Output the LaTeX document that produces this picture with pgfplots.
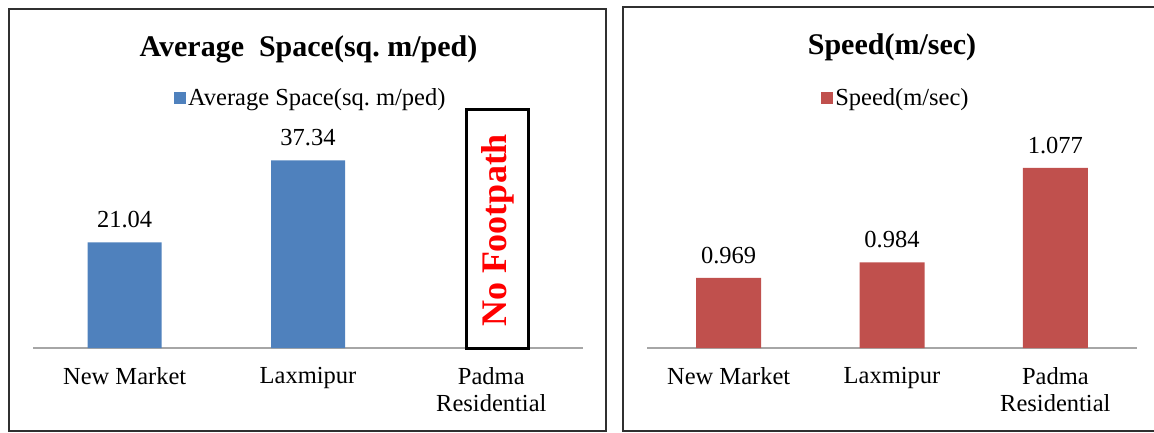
\documentclass[border=0pt]{standalone}
\usepackage{fontspec}
\setmainfont{Liberation Serif}
\usepackage{pgfplots}
\pgfplotsset{compat=1.18}
\frenchspacing
\definecolor{barblue}{HTML}{4F81BD}
\definecolor{barred}{HTML}{C0504D}
\definecolor{axgray}{HTML}{A6A6A6}
\definecolor{frame}{HTML}{303030}
\newcommand{\txt}{\fontsize{24.5}{27}\selectfont}
\newcommand{\ttl}{\fontsize{30}{33}\selectfont\bfseries}
\pgfplotsset{
  panel/.style={
    scale only axis,
    /pgf/number format/assume math mode=true,
    xmin=-0.5, xmax=2.5,
    xtick={0,1,2},
    xticklabels={New Market,Laxmipur,Padma\\Residential},
    axis x line*=bottom,
    axis y line=none,
    x axis line style={draw=axgray, line width=1.5pt, -},
    xtick style={draw=none},
    xticklabel style={font=\txt, align=center, anchor=north, inner sep=0pt, yshift=-19pt},
    ytick=\empty,
    clip=false,
    nodes near coords style={font=\txt, anchor=south, inner sep=0pt, yshift=14pt},
    legend style={draw=none, fill=none, font=\txt, anchor=center, inner sep=0pt,
      nodes={inner sep=2pt}},
    legend image code/.code={\fill[##1] (0pt,-6pt) rectangle (12pt,6pt);},
    title style={font=\ttl, anchor=center, inner sep=0pt},
  }
}
\begin{document}
\begin{tikzpicture}
\useasboundingbox (0pt,0pt) rectangle (1154pt,432pt);
\draw[frame, line width=2pt] (9pt,1pt) rectangle (606pt,423pt);
\draw[frame, line width=2pt] (623pt,1pt) rectangle (1170pt,425pt);
% left panel
\begin{axis}[panel,
  at={(33pt,84pt)}, anchor=south west,
  width=550pt, height=226pt,
  ymin=0, ymax=45,
  title={Average\ \ Space(sq. m/ped)},
  title style={at={(0.501,1.296)}},
  legend style={at={(0.505,1.106)}},
  nodes near coords={\pgfmathprintnumber[fixed,fixed zerofill,precision=2]{\pgfplotspointmeta}},
]
\addplot[ybar, bar width=74pt, fill=barblue, draw=none] coordinates {(0,21.04) (1,37.34)};
\addlegendentry{Average Space(sq. m/ped)}
\draw[black, line width=3pt] (axis cs:1.867,0) rectangle (axis cs:2.2,47.5);
\node[rotate=90, text=red, font=\fontsize{36}{38}\selectfont\bfseries, inner sep=0pt]
  at (axis cs:2.036,23.4) {No Footpath};
\end{axis}
% right panel
\begin{axis}[panel,
  at={(647pt,84pt)}, anchor=south west,
  width=490pt, height=203.6pt,
  ymin=0.9, ymax=1.1,
  title={Speed(m/sec)},
  title style={at={(0.5,1.449)}},
  legend style={at={(0.508,1.228)}},
  nodes near coords={\pgfmathprintnumber[fixed,fixed zerofill,precision=3]{\pgfplotspointmeta}},
]
\addplot[ybar, bar width=65pt, fill=barred, draw=none] coordinates {(0,0.969) (1,0.984) (2,1.077)};
\addlegendentry{Speed(m/sec)}
\end{axis}
\end{tikzpicture}
\end{document}
